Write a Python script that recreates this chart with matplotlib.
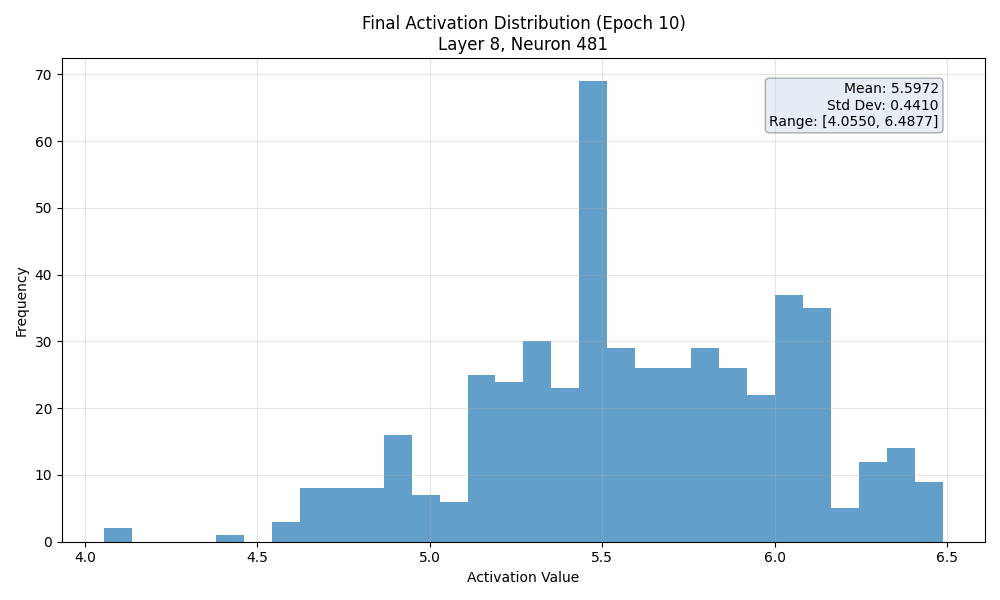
import numpy as np
import matplotlib
matplotlib.use('Agg')
import matplotlib.pyplot as plt

# histogram: 30 bins between min and max
act_min = 4.0550
act_max = 6.4877
counts = [2, 0, 0, 0, 1, 0, 3, 8, 8, 8, 16, 7, 6, 25, 24, 30, 23, 69,
          29, 26, 26, 29, 26, 22, 37, 35, 5, 12, 14, 9]
mean_val = 5.5972
std_val = 0.4410

edges = np.linspace(act_min, act_max, len(counts) + 1)
centers = (edges[:-1] + edges[1:]) / 2

fig, ax = plt.subplots(figsize=(10, 6), dpi=100)
ax.hist(centers, bins=edges, weights=counts, color='#1f77b4', alpha=0.7)
ax.set_title('Final Activation Distribution (Epoch 10)\nLayer 8, Neuron 481')
ax.set_xlabel('Activation Value')
ax.set_ylabel('Frequency')
ax.grid(True, alpha=0.3)

txt = f'Mean: {mean_val:.4f}\nStd Dev: {std_val:.4f}\nRange: [{act_min:.4f}, {act_max:.4f}]'
ax.text(0.95, 0.95, txt, transform=ax.transAxes, ha='right', va='top',
        bbox=dict(boxstyle='round', facecolor='lightsteelblue', alpha=0.3))

plt.tight_layout()
plt.savefig('out.png')
